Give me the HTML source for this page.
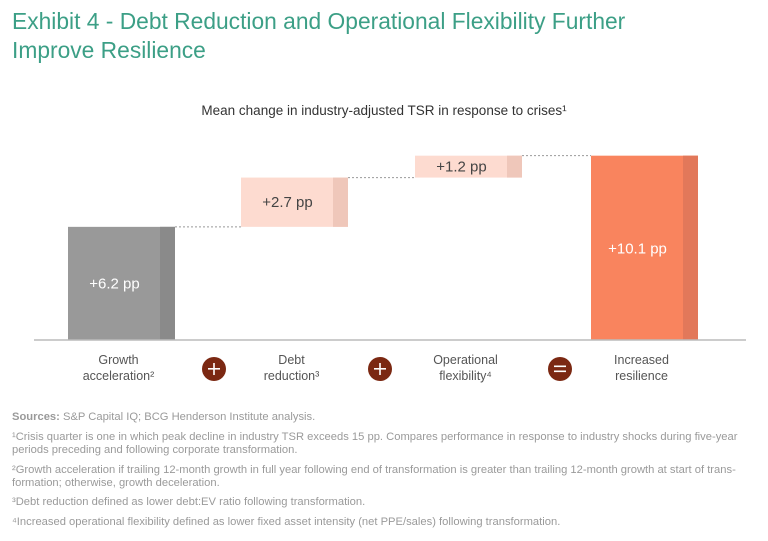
<!DOCTYPE html>
<html><head><meta charset="utf-8"><style>
body{margin:0;width:768px;height:541px;background:#fff;font-family:"Liberation Sans",sans-serif;overflow:hidden;position:relative}
.t{position:absolute;left:12px;top:7px;font-size:22.8px;line-height:29px;color:#3c9f86}
.fn{position:absolute;left:12px;font-size:11.2px;line-height:13px;color:#9a9a9a;width:760px;white-space:nowrap}
</style></head><body>
<div class="t">Exhibit 4 - Debt Reduction and Operational Flexibility Further<br>Improve Resilience</div>
<svg id="c" width="768" height="400" style="position:absolute;left:0;top:0"></svg>
<div class="fn" style="top:411px"><b>Sources:</b> S&amp;P Capital IQ; BCG Henderson Institute analysis.</div>
<div class="fn" style="top:431px">¹Crisis quarter is one in which peak decline in industry TSR exceeds 15 pp. Compares performance in response to industry shocks during five-year<br>periods preceding and following corporate transformation.</div>
<div class="fn" style="top:464px">²Growth acceleration if trailing 12-month growth in full year following end of transformation is greater than trailing 12-month growth at start of trans-<br>formation; otherwise, growth deceleration.</div>
<div class="fn" style="top:496px">³Debt reduction defined as lower debt:EV ratio following transformation.</div>
<div class="fn" style="top:516px">⁴Increased operational flexibility defined as lower fixed asset intensity (net PPE/sales) following transformation.</div>
<script>
const categories=["Growth acceleration","Debt reduction","Operational flexibility","Increased resilience"];
const sups=["²","³","⁴",""];
const values=[6.2,2.7,1.2,10.1];
const labels=["+6.2 pp","+2.7 pp","+1.2 pp","+10.1 pp"];
const kinds=["base","step","step","total"];
const ops=["+","+","="];
const svg=document.getElementById('c');
const NS='http://www.w3.org/2000/svg';
const base=340,scale=18.25,xs=[68,241,415,591],bw=107;
const y=v=>base-v*scale;
function mk(t,a){const e=document.createElementNS(NS,t);for(const k in a)e.setAttribute(k,a[k]);svg.appendChild(e);return e;}
const sub=mk('text',{x:384,y:115,'text-anchor':'middle','font-size':13.5,fill:'#333'});
sub.textContent='Mean change in industry-adjusted TSR in response to crises¹';


let cum=0;
const cols={base:['#999','#8a8a8a','#fff'],step:['#fddbd0','#efc7ba','#444'],total:['#f9845e','#e2785a','#fff']};
values.forEach((v,i)=>{
 let lo,hi;
 if(kinds[i]==='total'){lo=0;hi=v;}else{lo=cum;hi=cum+v;cum=hi;}
 const c=cols[kinds[i]];
 const r=mk('rect',{x:xs[i],y:y(hi),width:bw,height:y(lo)-y(hi),fill:c[0]});
 
 
 mk('rect',{x:xs[i]+bw-15,y:y(hi),width:15,height:y(lo)-y(hi),fill:c[1]});
 const ty=kinds[i]==='total'?y(hi)+98:(y(hi)+y(lo))/2+5;
 const tl=mk('text',{x:xs[i]+bw/2-7,y:ty,'text-anchor':'middle','font-size':15,fill:c[2]});
 tl.textContent=labels[i];
 
 
 if(i<values.length-1){
  const l=mk('line',{x1:xs[i]+bw,x2:xs[i+1],y1:y(hi),y2:y(hi),stroke:'#999','stroke-dasharray':'2,2','stroke-width':1});
  
  
 }
 const w=categories[i].split(' ');
 const a=mk('text',{x:xs[i]+bw/2-3,y:364,'text-anchor':'middle','font-size':12.5,fill:'#555'});a.textContent=w[0];
 
 
 const b=mk('text',{x:xs[i]+bw/2-3,y:380,'text-anchor':'middle','font-size':12.5,fill:'#555'});b.textContent=w.slice(1).join(' ')+sups[i];
});
const ax=mk('line',{x1:34,x2:746,y1:base,y2:base,stroke:'#bbb','stroke-width':1.5});


[214,380,560].forEach((cx,i)=>{
 const ci=mk('circle',{cx:cx,cy:369,r:12,fill:'#7b2812'});
 
 
 if(ops[i]==='+'){mk('rect',{x:cx-6,y:368,width:12,height:1.6,fill:'#fff'});mk('rect',{x:cx-0.8,y:363,width:1.6,height:12,fill:'#fff'});}
 else{mk('rect',{x:cx-6,y:365.5,width:12,height:1.6,fill:'#fff'});mk('rect',{x:cx-6,y:370.5,width:12,height:1.6,fill:'#fff'});}
});
</script>
</body></html>
